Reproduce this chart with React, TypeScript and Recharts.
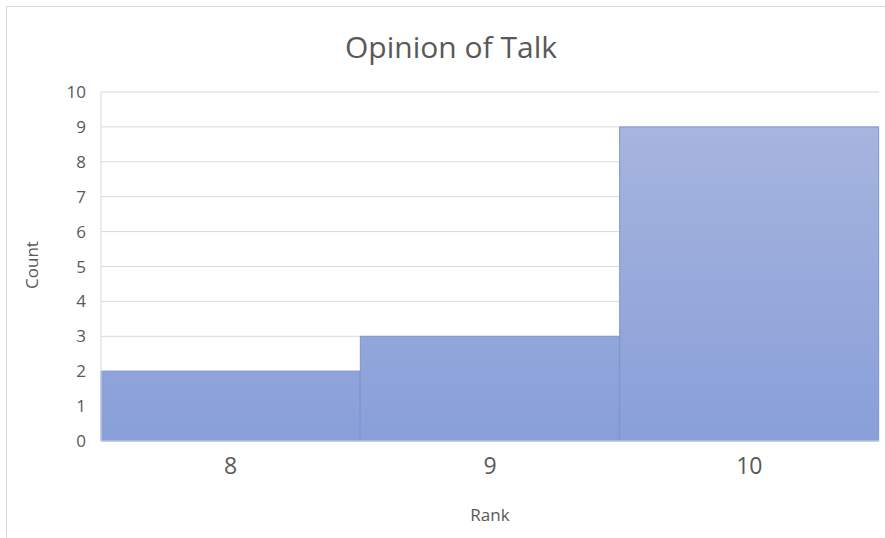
import React from 'react';
import { BarChart, Bar, XAxis, YAxis, CartesianGrid } from 'recharts';

const categories = ['8', '9', '10'];
const counts = [2, 3, 9];
const yTicks = [0, 1, 2, 3, 4, 5, 6, 7, 8, 9, 10];

const data = categories.map((rank, i) => ({ rank, count: counts[i] }));

const FONT = '"Open Sans", "Noto Sans", sans-serif';
const TEXT = '#595959';

export default function App() {
  return (
    <div style={{ position: 'absolute', left: 0, top: 0, width: 885, height: 538, overflow: 'hidden', background: '#fff', fontFamily: FONT }}>
      <div style={{ position: 'absolute', left: 6, top: 6, width: 900, height: 560, border: '1px solid #d9d9d9', boxSizing: 'border-box' }} />
      <BarChart
        width={885}
        height={538}
        data={data}
        margin={{ top: 92, right: 6, bottom: 67, left: 41 }}
        barCategoryGap={0}
        barGap={0}
        style={{ position: 'absolute', left: 0, top: 0 }}
      >
        <defs>
          <linearGradient id="barGrad" gradientUnits="userSpaceOnUse" x1="0" y1="92" x2="0" y2="441">
            <stop offset="0%" stopColor="#aab7df" />
            <stop offset="100%" stopColor="#889fd8" />
          </linearGradient>
        </defs>
        <CartesianGrid vertical={false} stroke="#d9d9d9" strokeWidth={1} />
        <XAxis
          dataKey="rank"
          axisLine={{ stroke: '#d9d9d9' }}
          tickLine={false}
          tick={{ fill: TEXT, fontSize: 23, fontFamily: FONT }}
          tickMargin={11}
          height={30}
        />
        <YAxis
          domain={[0, 10]}
          ticks={yTicks}
          interval={0}
          axisLine={{ stroke: '#d9d9d9' }}
          tickLine={false}
          tick={{ fill: TEXT, fontSize: 17, fontFamily: FONT }}
          tickMargin={9}
          width={60}
        />
        <Bar dataKey="count" fill="url(#barGrad)" stroke="#7a96d4" strokeWidth={1} isAnimationActive={false} />
      </BarChart>
      <div style={{ position: 'absolute', left: 0, width: 902, top: 27, textAlign: 'center', fontSize: 30, color: TEXT, lineHeight: '40px' }}>
        Opinion of Talk
      </div>
      <div style={{ position: 'absolute', left: 101, width: 778, top: 503, textAlign: 'center', fontSize: 17, color: TEXT, lineHeight: '24px' }}>
        Rank
      </div>
      <div style={{ position: 'absolute', left: 32, top: 265, width: 0, height: 0 }}>
        <div style={{ position: 'absolute', left: -40, top: -12, width: 80, textAlign: 'center', fontSize: 17, color: TEXT, lineHeight: '24px', transform: 'rotate(-90deg)' }}>
          Count
        </div>
      </div>
    </div>
  );
}
